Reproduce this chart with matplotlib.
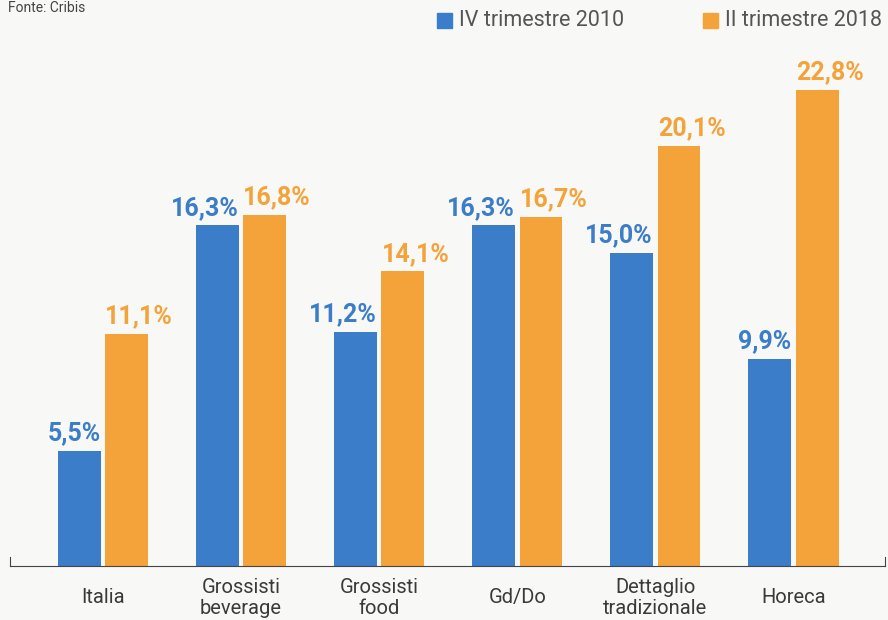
import matplotlib.pyplot as plt
import matplotlib.patches as mpatches
import numpy as np

categories = ['Italia', 'Grossisti\nbeverage', 'Grossisti\nfood', 'Gd/Do',
              'Dettaglio\ntradizionale', 'Horeca']
q4_2010 = [5.5, 16.3, 11.2, 16.3, 15.0, 9.9]
q2_2018 = [11.1, 16.8, 14.1, 16.7, 20.1, 22.8]
series_names = ['IV trimestre 2010', 'II trimestre 2018']

blue = '#3b7dc8'
orange = '#f4a33a'
bg = '#f8f8f6'
plt.rcParams['font.family'] = ['Roboto', 'DejaVu Sans']

fig = plt.figure(figsize=(8.88, 6.2), dpi=100, facecolor=bg)
ax = fig.add_axes([10 / 888, 54 / 620, 875 / 888, 526 / 620])
ax.set_facecolor(bg)

x = np.arange(len(categories))
w = 0.31
off = 0.172
b1 = ax.bar(x - off, q4_2010, w, color=blue)
b2 = ax.bar(x + off, q2_2018, w, color=orange)

def fmt(v):
    return f'{v:.1f}%'.replace('.', ',')

# blue labels hug the right edge of their bar, orange ones the left edge
for r, v in zip(b1, q4_2010):
    ax.annotate(fmt(v), (r.get_x() + r.get_width(), v),
                xytext=(0, 4), textcoords='offset points',
                ha='right', va='bottom', color=blue,
                fontsize=18, fontweight='bold')
for r, v in zip(b2, q2_2018):
    ax.annotate(fmt(v), (r.get_x(), v),
                xytext=(0, 4), textcoords='offset points',
                ha='left', va='bottom', color=orange,
                fontsize=18, fontweight='bold')

ax.set_xlim(-0.673, 5.663)
ax.set_ylim(0, 25.17)
ax.set_yticks([])
ax.set_xticks(x)
ax.set_xticklabels(categories, fontsize=14.5, color='#3a3a3a', linespacing=1.15)
for lbl in ax.get_xticklabels():
    lbl.set_va('center')
ax.tick_params(axis='x', length=0, pad=23)
ax.spines['top'].set_visible(False)
for s in ['left', 'right']:
    ax.spines[s].set_bounds(0, 0.45)
    ax.spines[s].set_color('#444444')
ax.spines['bottom'].set_color('#444444')

fig.text(8 / 888, 1 - 8 / 620, 'Fonte: Cribis', fontsize=10, color='#444444',
         va='center', ha='left')

# legend
for sx, tx, col, name in [(437, 459, blue, series_names[0]),
                          (703, 725, orange, series_names[1])]:
    fig.patches.append(mpatches.Rectangle((sx / 888, 1 - 28 / 620), 15 / 888, 15 / 620,
                                          transform=fig.transFigure, color=col))
    fig.text(tx / 888, 1 - 20 / 620, name, fontsize=15.5, color='#555555',
             va='center', ha='left')

fig.savefig('out.png', dpi=100, facecolor=bg)
